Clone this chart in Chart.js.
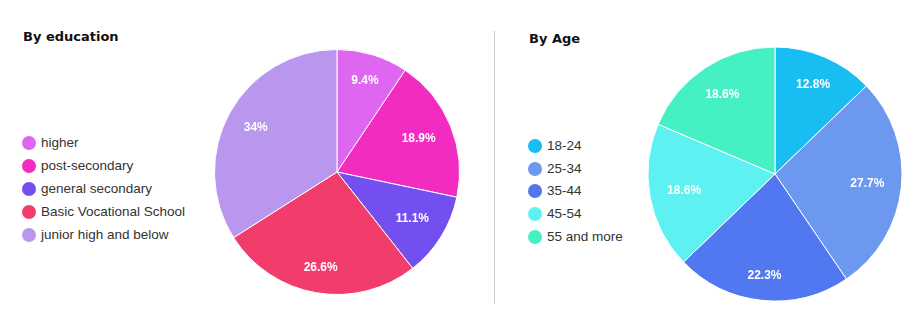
<!DOCTYPE html>
<html>
<head>
<meta charset="utf-8">
<script src="https://cdn.jsdelivr.net/npm/chart.js@4/dist/chart.umd.min.js"></script>
<style>
  html, body { margin: 0; padding: 0; background: #fff; }
  #wrap { position: relative; width: 923px; height: 324px; overflow: hidden; font-family: "Liberation Sans", Arial, sans-serif; }
  .title { position: absolute; font-family: "DejaVu Sans", Verdana, sans-serif; font-weight: bold; font-size: 13px; color: #111; line-height: 16px; }
  .legend { position: absolute; font-size: 13.5px; color: #333; }
  .legend .item { position: absolute; left: 0; height: 16px; line-height: 16px; white-space: nowrap; }
  .legend .dot { position: absolute; left: 0; top: 1px; width: 14px; height: 14px; border-radius: 50%; }
  .legend .txt { position: absolute; left: 19px; top: 0; }
  .divider { position: absolute; left: 494px; top: 31px; width: 1px; height: 273px; background: #cccccc; }
  canvas { position: absolute; }
</style>
</head>
<body>
<div id="wrap">
  <div class="title" style="left:23px; top:29px;">By education</div>
  <div class="title" style="left:529px; top:31px;">By Age</div>
  <div class="legend" id="legEdu" style="left:22px; top:135px;"></div>
  <div class="legend" id="legAge" style="left:528px; top:138px;"></div>
  <div class="divider"></div>
  <canvas id="eduChart" width="250" height="250" style="left:212px; top:47px;"></canvas>
  <canvas id="ageChart" width="260" height="260" style="left:645px; top:44px;"></canvas>
</div>
<script>
// Education breakdown (percent)
const eduLabels = ['higher', 'post-secondary', 'general secondary', 'Basic Vocational School', 'junior high and below'];
const eduValues = [9.4, 18.9, 11.1, 26.6, 34];
const eduColors = ['#DE66F0', '#F22BC1', '#744FF0', '#F23C6B', '#B997EE'];

// Age breakdown (percent)
const ageLabels = ['18-24', '25-34', '35-44', '45-54', '55 and more'];
const ageValues = [12.8, 27.7, 22.3, 18.6, 18.6];
const ageColors = ['#18BEF2', '#6C98F0', '#5178F0', '#5EF1F1', '#45F0C4'];

// HTML legend: one row per category
function buildLegend(id, labels, colors, step) {
  const box = document.getElementById(id);
  labels.forEach((lab, i) => {
    const row = document.createElement('div');
    row.className = 'item';
    row.style.top = (i * step) + 'px';
    const dot = document.createElement('span');
    dot.className = 'dot';
    dot.style.background = colors[i];
    const txt = document.createElement('span');
    txt.className = 'txt';
    txt.textContent = lab;
    row.appendChild(dot);
    row.appendChild(txt);
    box.appendChild(row);
  });
}
buildLegend('legEdu', eduLabels, eduColors, 23);
buildLegend('legAge', ageLabels, ageColors, 22.7);

// Percentage labels drawn inside each slice, pushed toward the rim
const sliceLabels = {
  id: 'sliceLabels',
  afterDatasetsDraw(chart) {
    const ctx = chart.ctx;
    const meta = chart.getDatasetMeta(0);
    const values = chart.data.datasets[0].data;
    ctx.save();
    ctx.font = 'bold 12px "Liberation Sans", Arial, sans-serif';
    ctx.fillStyle = '#ffffff';
    ctx.textAlign = 'center';
    ctx.textBaseline = 'middle';
    meta.data.forEach((arc, i) => {
      const p = arc.getProps(['x', 'y', 'startAngle', 'endAngle', 'outerRadius'], true);
      const mid = (p.startAngle + p.endAngle) / 2;
      const ux = Math.cos(mid), uy = Math.sin(mid);
      const text = values[i] + '%';
      const w = ctx.measureText(text).width;
      const h = 14;
      const reach = p.outerRadius * 0.87;
      const half = Math.abs(ux) * w / 2 + Math.abs(uy) * h / 2;
      const r = reach - half;
      ctx.fillText(text, p.x + ux * r, p.y + uy * r);
    });
    ctx.restore();
  }
};

function makePie(id, labels, values, colors, radius) {
  return new Chart(document.getElementById(id), {
    type: 'pie',
    data: {
      labels: labels,
      datasets: [{
        data: values,
        backgroundColor: colors,
        borderColor: '#ffffff',
        borderWidth: 1
      }]
    },
    options: {
      responsive: false,
      animation: false,
      devicePixelRatio: 1,
      radius: radius,
      layout: { padding: 0 },
      plugins: {
        legend: { display: false },
        tooltip: { enabled: false },
        title: { display: false }
      }
    },
    plugins: [sliceLabels]
  });
}

makePie('eduChart', eduLabels, eduValues, eduColors, 122.5);
makePie('ageChart', ageLabels, ageValues, ageColors, 127);
</script>
</body>
</html>
